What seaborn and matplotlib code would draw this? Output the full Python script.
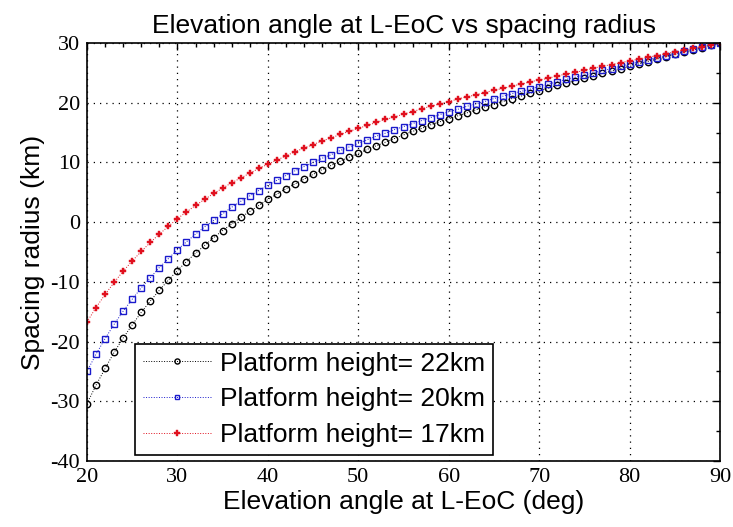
import matplotlib.pyplot as plt
import numpy as np
import pandas as pd
import seaborn as sns
from matplotlib.ticker import MultipleLocator

sns.set_theme(style='white')
plt.rcParams['font.family'] = ['Liberation Sans', 'DejaVu Sans']
plt.rcParams['axes.unicode_minus'] = False
plt.rcParams['text.color'] = 'black'
plt.rcParams['axes.labelcolor'] = 'black'

angle = list(range(20, 91))

h22 = [-30.4, -27.3, -24.5, -21.8, -19.4, -17.2, -15.1, -13.2, -11.4, -9.7,
       -8.1, -6.6, -5.2, -3.9, -2.6, -1.4, -0.3, 0.8, 1.8, 2.8,
       3.8, 4.7, 5.6, 6.4, 7.2, 8.0, 8.8, 9.5, 10.2, 10.9,
       11.5, 12.2, 12.8, 13.4, 14.0, 14.6, 15.2, 15.7, 16.3, 16.8,
       17.3, 17.8, 18.3, 18.8, 19.3, 19.7, 20.2, 20.7, 21.1, 21.6,
       22.0, 22.4, 22.9, 23.3, 23.7, 24.1, 24.5, 24.9, 25.3, 25.7,
       26.1, 26.5, 26.9, 27.3, 27.7, 28.1, 28.5, 28.8, 29.2, 29.6, 30.0]
h20 = [-25.0, -22.1, -19.5, -17.1, -14.9, -12.9, -11.0, -9.3, -7.6, -6.1,
       -4.6, -3.3, -2.0, -0.8, 0.3, 1.4, 2.5, 3.5, 4.4, 5.3,
       6.2, 7.0, 7.8, 8.6, 9.3, 10.0, 10.7, 11.3, 12.0, 12.6,
       13.2, 13.8, 14.4, 14.9, 15.5, 16.0, 16.5, 17.0, 17.5, 18.0,
       18.5, 18.9, 19.4, 19.8, 20.2, 20.7, 21.1, 21.5, 21.9, 22.3,
       22.7, 23.1, 23.5, 23.9, 24.3, 24.6, 25.0, 25.4, 25.7, 26.1,
       26.5, 26.8, 27.2, 27.5, 27.9, 28.2, 28.6, 29.0, 29.3, 29.7, 30.0]
h17 = [-16.7, -14.3, -12.1, -10.1, -8.2, -6.5, -4.9, -3.4, -2.0, -0.7,
       0.6, 1.7, 2.8, 3.8, 4.8, 5.7, 6.6, 7.4, 8.2, 9.0,
       9.7, 10.4, 11.1, 11.8, 12.4, 13.0, 13.6, 14.1, 14.7, 15.2,
       15.7, 16.2, 16.7, 17.2, 17.6, 18.1, 18.5, 19.0, 19.4, 19.8,
       20.2, 20.6, 21.0, 21.3, 21.7, 22.1, 22.4, 22.8, 23.1, 23.5,
       23.8, 24.1, 24.5, 24.8, 25.1, 25.4, 25.8, 26.1, 26.4, 26.7,
       27.0, 27.3, 27.6, 27.9, 28.2, 28.5, 28.8, 29.1, 29.4, 29.7, 30.0]

labels = ['Platform height= 22km', 'Platform height= 20km', 'Platform height= 17km']

fig = plt.figure(figsize=(7.33, 5.27), dpi=100)
ax = fig.add_axes([0.1187, 0.1252, 0.8636, 0.7932])

sns.lineplot(x=angle, y=h22, ax=ax, color='black', linestyle=':', linewidth=0.7,
             marker='o', markersize=4.6, markerfacecolor='none', markeredgecolor='black',
             markeredgewidth=1.0, label=labels[0])
sns.lineplot(x=angle, y=h20, ax=ax, color='#1a1acc', linestyle=':', linewidth=0.7,
             marker='s', markersize=4.4, markerfacecolor='none', markeredgecolor='#1a1acc',
             markeredgewidth=1.0, label=labels[1])
sns.lineplot(x=angle, y=h17, ax=ax, color='#e0101e', linestyle=':', linewidth=0.7,
             marker='P', markersize=5, markerfacecolor='#e0101e', markeredgecolor='#e0101e',
             markeredgewidth=0.3, label=labels[2])

ax.set_xlim(20, 90)
ax.set_ylim(-40, 30)
ax.xaxis.set_major_locator(MultipleLocator(10))
ax.xaxis.set_minor_locator(MultipleLocator(2))
ax.yaxis.set_major_locator(MultipleLocator(10))
ax.yaxis.set_minor_locator(MultipleLocator(5))
ax.tick_params(which='both', direction='in', top=True, right=True, colors='black')
ax.tick_params(which='major', length=5, width=1, labelsize=16, pad=5)
ax.tick_params(which='minor', length=3, width=1)
for t in ax.get_xticklabels() + ax.get_yticklabels():
    t.set_family(['Liberation Serif', 'DejaVu Serif'])
ax.grid(True, which='major', color='black', linestyle=(0, (1, 4)), linewidth=0.9)
for s in ax.spines.values():
    s.set_color('black')
    s.set_linewidth(1.2)

ax.set_title('Elevation angle at L-EoC vs spacing radius', fontsize=19, pad=7)
ax.set_xlabel('Elevation angle at L-EoC (deg)', fontsize=19, labelpad=2)
ax.set_ylabel('Spacing radius (km)', fontsize=19, labelpad=4)

leg = ax.legend(loc='lower left', bbox_to_anchor=(0.076, 0.014), borderaxespad=0,
                fontsize=19, frameon=True, fancybox=False, markerscale=0.8,
                handlelength=2.6, handletextpad=0.3, labelspacing=0.45,
                borderpad=0.3)
leg.get_frame().set_edgecolor('black')
leg.get_frame().set_linewidth(1.2)
leg.get_frame().set_alpha(1)

fig.savefig('out.png', dpi=100, facecolor='white')
